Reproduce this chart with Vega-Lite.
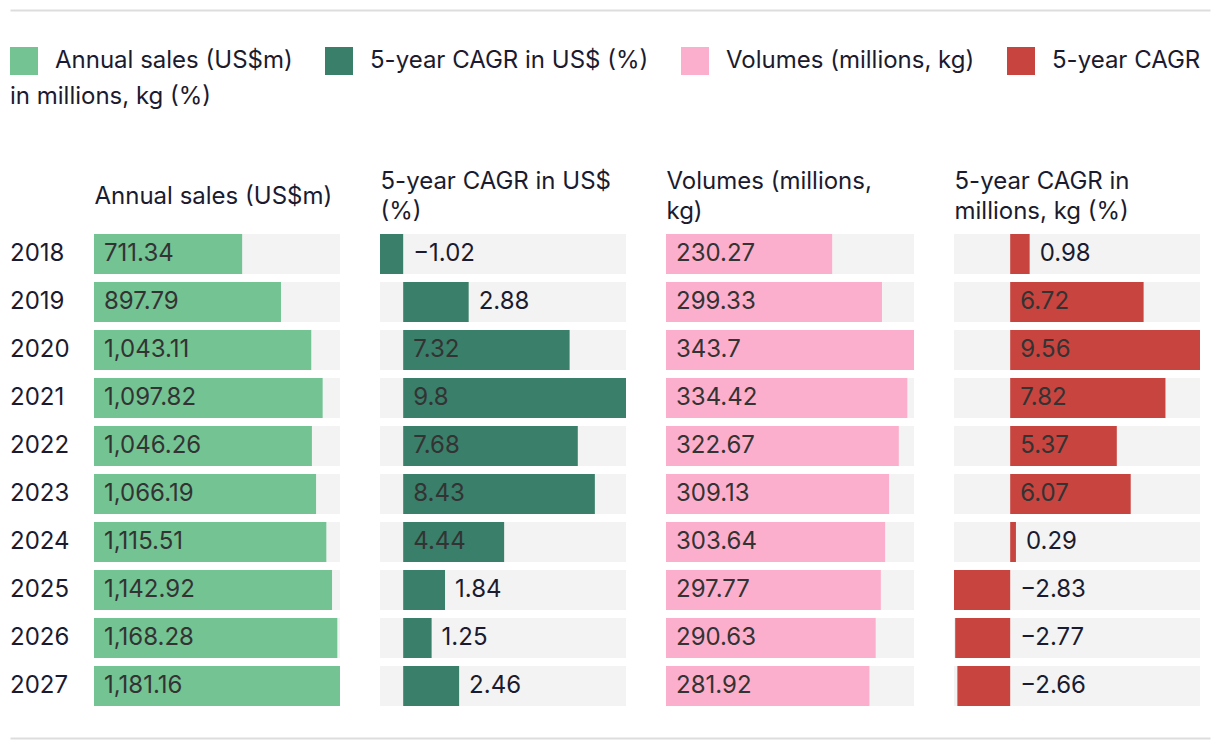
{
  "$schema": "https://vega.github.io/schema/vega-lite/v6.json",
  "padding": {"top": 10, "left": 10, "right": 10, "bottom": 4},
  "background": "white",
  "datasets": {
    "rows": [
      {"year": "2018", "sales": 711.34, "cagr_usd": -1.02, "volume": 230.27, "cagr_vol": 0.98},
      {"year": "2019", "sales": 897.79, "cagr_usd": 2.88, "volume": 299.33, "cagr_vol": 6.72},
      {"year": "2020", "sales": 1043.11, "cagr_usd": 7.32, "volume": 343.7, "cagr_vol": 9.56},
      {"year": "2021", "sales": 1097.82, "cagr_usd": 9.8, "volume": 334.42, "cagr_vol": 7.82},
      {"year": "2022", "sales": 1046.26, "cagr_usd": 7.68, "volume": 322.67, "cagr_vol": 5.37},
      {"year": "2023", "sales": 1066.19, "cagr_usd": 8.43, "volume": 309.13, "cagr_vol": 6.07},
      {"year": "2024", "sales": 1115.51, "cagr_usd": 4.44, "volume": 303.64, "cagr_vol": 0.29},
      {"year": "2025", "sales": 1142.92, "cagr_usd": 1.84, "volume": 297.77, "cagr_vol": -2.83},
      {"year": "2026", "sales": 1168.28, "cagr_usd": 1.25, "volume": 290.63, "cagr_vol": -2.77},
      {"year": "2027", "sales": 1181.16, "cagr_usd": 2.46, "volume": 281.92, "cagr_vol": -2.66}
    ]
  },
  "data": {"name": "rows"},
  "spacing": 28,
  "vconcat": [
    {
      "width": 1200,
      "height": 131,
      "mark": {"type": "point", "opacity": 0, "size": 0},
      "encoding": {
        "x": {"datum": 0.5, "type": "quantitative", "scale": {"domain": [0, 1]},
          "axis": {"orient": "top", "domain": true, "domainColor": "#dddddd", "domainWidth": 2, "labels": false, "ticks": false, "grid": false, "title": null}}
      }
    },
    {
      "spacing": 40,
      "bounds": "flush",
      "hconcat": [
        {
          "width": 44,
          "height": 480,
          "mark": {"type": "text", "align": "left", "baseline": "middle", "fontSize": 24, "color": "#1b1b2f"},
          "encoding": {
            "y": {"field": "year", "type": "nominal", "scale": {"paddingInner": 0.1667, "paddingOuter": 0.0833}, "axis": null},
            "x": {"datum": 0, "type": "quantitative", "scale": {"domain": [0, 1]}, "axis": null},
            "text": {"field": "year", "type": "nominal"}
          }
        },
        {
          "width": 246,
          "height": 480,
          "encoding": {
            "y": {"field": "year", "type": "nominal", "scale": {"paddingInner": 0.1667, "paddingOuter": 0.0833}, "axis": null}
          },
          "layer": [
            {
              "mark": {"type": "bar", "color": "#f3f3f3"},
              "encoding": {
                "x": {"datum": 0, "type": "quantitative", "title": "Annual sales (US$m)",
                  "scale": {"domain": [0, 1181.16], "nice": false, "zero": false},
                  "axis": {"orient": "top", "labels": false, "ticks": false, "domain": false, "grid": false, "titleAnchor": "start", "titleAlign": "left", "titleX": 0, "titleY": -27, "titleBaseline": "alphabetic", "titleLineHeight": 30, "titleFontSize": 24, "titleFontWeight": "normal", "titleColor": "#1b1b2f", "titleLimit": 1000}},
                "x2": {"datum": 1181.16}
              }
            },
            {
              "mark": {"type": "bar"},
              "encoding": {
                "x": {"field": "sales", "type": "quantitative", "title": "Annual sales (US$m)"},
                "color": {"datum": "Annual sales (US$m)", "type": "nominal",
                  "scale": {"domain": ["Annual sales (US$m)", "5-year CAGR in US$ (%)", "Volumes (millions, kg)", "5-year CAGR"], "range": ["#73c393", "#3a7f6a", "#fcafcc", "#c8443f"]},
                  "legend": {"title": "in millions, kg (%)"}}
              }
            },
            {
              "mark": {"type": "text", "align": "left", "baseline": "middle", "dx": 10, "fontSize": 24, "color": "#333333"},
              "encoding": {
                "x": {"datum": 0, "type": "quantitative", "title": "Annual sales (US$m)"},
                "text": {"field": "sales", "type": "quantitative", "format": ",.2~f"}
              }
            }
          ]
        },
        {
          "width": 246,
          "height": 480,
          "encoding": {
            "y": {"field": "year", "type": "nominal", "scale": {"paddingInner": 0.1667, "paddingOuter": 0.0833}, "axis": null}
          },
          "layer": [
            {
              "mark": {"type": "bar", "color": "#f3f3f3"},
              "encoding": {
                "x": {"datum": -1.02, "type": "quantitative", "title": ["5-year CAGR in US$", "(%)"],
                  "scale": {"domain": [-1.02, 9.8], "nice": false, "zero": false},
                  "axis": {"orient": "top", "labels": false, "ticks": false, "domain": false, "grid": false, "titleAnchor": "start", "titleAlign": "left", "titleX": 0, "titleY": -42, "titleBaseline": "alphabetic", "titleLineHeight": 30, "titleFontSize": 24, "titleFontWeight": "normal", "titleColor": "#1b1b2f", "titleLimit": 1000}},
                "x2": {"datum": 9.8}
              }
            },
            {
              "mark": {"type": "bar"},
              "encoding": {
                "x": {"field": "cagr_usd", "type": "quantitative", "title": ["5-year CAGR in US$", "(%)"]},
                "color": {"datum": "5-year CAGR in US$ (%)", "type": "nominal",
                  "scale": {"domain": ["Annual sales (US$m)", "5-year CAGR in US$ (%)", "Volumes (millions, kg)", "5-year CAGR"], "range": ["#73c393", "#3a7f6a", "#fcafcc", "#c8443f"]},
                  "legend": {"title": "in millions, kg (%)"}}
              }
            },
            {
              "transform": [{"filter": "datum.cagr_usd >= 3.5"}],
              "mark": {"type": "text", "align": "left", "baseline": "middle", "dx": 10, "fontSize": 24, "color": "#333333"},
              "encoding": {
                "x": {"datum": 0, "type": "quantitative", "title": ["5-year CAGR in US$", "(%)"]},
                "text": {"field": "cagr_usd", "type": "quantitative", "format": ",.2~f"}
              }
            },
            {
              "transform": [{"filter": "datum.cagr_usd >= 0 && datum.cagr_usd < 3.5"}],
              "mark": {"type": "text", "align": "left", "baseline": "middle", "dx": 10, "fontSize": 24, "color": "#1b1b2f"},
              "encoding": {
                "x": {"field": "cagr_usd", "type": "quantitative", "title": ["5-year CAGR in US$", "(%)"]},
                "text": {"field": "cagr_usd", "type": "quantitative", "format": ",.2~f"}
              }
            },
            {
              "transform": [{"filter": "datum.cagr_usd < 0"}],
              "mark": {"type": "text", "align": "left", "baseline": "middle", "dx": 10, "fontSize": 24, "color": "#1b1b2f"},
              "encoding": {
                "x": {"datum": 0, "type": "quantitative", "title": ["5-year CAGR in US$", "(%)"]},
                "text": {"field": "cagr_usd", "type": "quantitative", "format": ",.2~f"}
              }
            }
          ]
        },
        {
          "width": 248,
          "height": 480,
          "encoding": {
            "y": {"field": "year", "type": "nominal", "scale": {"paddingInner": 0.1667, "paddingOuter": 0.0833}, "axis": null}
          },
          "layer": [
            {
              "mark": {"type": "bar", "color": "#f3f3f3"},
              "encoding": {
                "x": {"datum": 0, "type": "quantitative", "title": ["Volumes (millions,", "kg)"],
                  "scale": {"domain": [0, 343.7], "nice": false, "zero": false},
                  "axis": {"orient": "top", "labels": false, "ticks": false, "domain": false, "grid": false, "titleAnchor": "start", "titleAlign": "left", "titleX": 0, "titleY": -42, "titleBaseline": "alphabetic", "titleLineHeight": 30, "titleFontSize": 24, "titleFontWeight": "normal", "titleColor": "#1b1b2f", "titleLimit": 1000}},
                "x2": {"datum": 343.7}
              }
            },
            {
              "mark": {"type": "bar"},
              "encoding": {
                "x": {"field": "volume", "type": "quantitative", "title": ["Volumes (millions,", "kg)"]},
                "color": {"datum": "Volumes (millions, kg)", "type": "nominal",
                  "scale": {"domain": ["Annual sales (US$m)", "5-year CAGR in US$ (%)", "Volumes (millions, kg)", "5-year CAGR"], "range": ["#73c393", "#3a7f6a", "#fcafcc", "#c8443f"]},
                  "legend": {"title": "in millions, kg (%)"}}
              }
            },
            {
              "mark": {"type": "text", "align": "left", "baseline": "middle", "dx": 10, "fontSize": 24, "color": "#333333"},
              "encoding": {
                "x": {"datum": 0, "type": "quantitative", "title": ["Volumes (millions,", "kg)"]},
                "text": {"field": "volume", "type": "quantitative", "format": ",.2~f"}
              }
            }
          ]
        },
        {
          "width": 246,
          "height": 480,
          "encoding": {
            "y": {"field": "year", "type": "nominal", "scale": {"paddingInner": 0.1667, "paddingOuter": 0.0833}, "axis": null}
          },
          "layer": [
            {
              "mark": {"type": "bar", "color": "#f3f3f3"},
              "encoding": {
                "x": {"datum": -2.83, "type": "quantitative", "title": ["5-year CAGR in", "millions, kg (%)"],
                  "scale": {"domain": [-2.83, 9.56], "nice": false, "zero": false},
                  "axis": {"orient": "top", "labels": false, "ticks": false, "domain": false, "grid": false, "titleAnchor": "start", "titleAlign": "left", "titleX": 0, "titleY": -42, "titleBaseline": "alphabetic", "titleLineHeight": 30, "titleFontSize": 24, "titleFontWeight": "normal", "titleColor": "#1b1b2f", "titleLimit": 1000}},
                "x2": {"datum": 9.56}
              }
            },
            {
              "mark": {"type": "bar"},
              "encoding": {
                "x": {"field": "cagr_vol", "type": "quantitative", "title": ["5-year CAGR in", "millions, kg (%)"]},
                "color": {"datum": "5-year CAGR", "type": "nominal",
                  "scale": {"domain": ["Annual sales (US$m)", "5-year CAGR in US$ (%)", "Volumes (millions, kg)", "5-year CAGR"], "range": ["#73c393", "#3a7f6a", "#fcafcc", "#c8443f"]},
                  "legend": {"title": "in millions, kg (%)"}}
              }
            },
            {
              "transform": [{"filter": "datum.cagr_vol >= 3"}],
              "mark": {"type": "text", "align": "left", "baseline": "middle", "dx": 10, "fontSize": 24, "color": "#333333"},
              "encoding": {
                "x": {"datum": 0, "type": "quantitative", "title": ["5-year CAGR in", "millions, kg (%)"]},
                "text": {"field": "cagr_vol", "type": "quantitative", "format": ",.2~f"}
              }
            },
            {
              "transform": [{"filter": "datum.cagr_vol >= 0 && datum.cagr_vol < 3"}],
              "mark": {"type": "text", "align": "left", "baseline": "middle", "dx": 10, "fontSize": 24, "color": "#1b1b2f"},
              "encoding": {
                "x": {"field": "cagr_vol", "type": "quantitative", "title": ["5-year CAGR in", "millions, kg (%)"]},
                "text": {"field": "cagr_vol", "type": "quantitative", "format": ",.2~f"}
              }
            },
            {
              "transform": [{"filter": "datum.cagr_vol < 0"}],
              "mark": {"type": "text", "align": "left", "baseline": "middle", "dx": 10, "fontSize": 24, "color": "#1b1b2f"},
              "encoding": {
                "x": {"datum": 0, "type": "quantitative", "title": ["5-year CAGR in", "millions, kg (%)"]},
                "text": {"field": "cagr_vol", "type": "quantitative", "format": ",.2~f"}
              }
            }
          ]
        }
      ]
    },
    {
      "width": 1200,
      "height": 0,
      "mark": {"type": "point", "opacity": 0, "size": 0},
      "encoding": {
        "x": {"datum": 0.5, "type": "quantitative", "scale": {"domain": [0, 1]},
          "axis": {"orient": "top", "domain": true, "domainColor": "#dddddd", "domainWidth": 2, "labels": false, "ticks": false, "grid": false, "title": null}}
      }
    }
  ],
  "config": {
    "view": {"stroke": null},
    "font": "Inter",
    "legend": {
      "orient": "none",
      "legendX": 0,
      "legendY": 37,
      "direction": "horizontal",
      "symbolType": "square",
      "symbolSize": 784,
      "symbolStrokeWidth": 0,
      "symbolOpacity": 1,
      "labelFont": "Inter",
      "labelFontSize": 24,
      "labelColor": "#1b1b2f",
      "labelLimit": 1000,
      "labelOffset": 17,
      "columnPadding": 32,
      "gridAlign": "none",
      "titleOrient": "bottom",
      "titleAnchor": "start",
      "titleFont": "Inter",
      "titleFontSize": 24,
      "titleFontWeight": "normal",
      "titleColor": "#1b1b2f",
      "titleLimit": 1000,
      "titlePadding": 10,
      "padding": 0
    }
  }
}
